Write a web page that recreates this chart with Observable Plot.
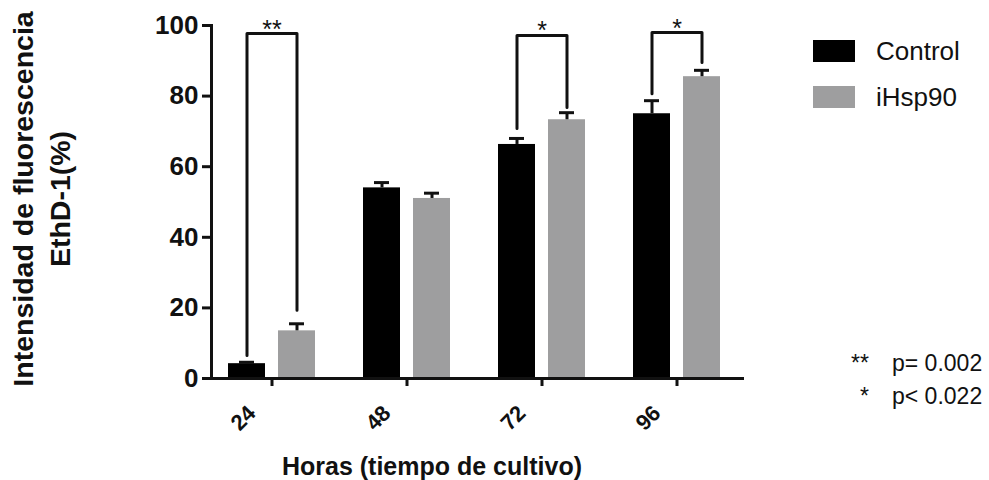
<!DOCTYPE html>
<html>
<head>
<meta charset="utf-8">
<script src="https://cdn.jsdelivr.net/npm/d3@7"></script>
<script src="https://cdn.jsdelivr.net/npm/@observablehq/plot@0.6"></script>
<style>
  html, body { margin: 0; padding: 0; background: #fff; }
  #wrap { position: relative; width: 989px; height: 480px; overflow: hidden; font-family: "Liberation Sans", Arial, sans-serif; color: #111; }
  #wrap > svg { position: absolute; left: 0; top: 0; }
  #ylab { position: absolute; left: -158px; top: 162px; width: 400px; height: 74px; transform: rotate(-90deg); transform-origin: 50% 50%;
          font-weight: bold; font-size: 28.5px; line-height: 37px; text-align: center; white-space: nowrap; }
  #xlab { position: absolute; left: 0; top: 452px; width: 864px; text-align: center; font-weight: bold; font-size: 25px; line-height: 28px; white-space: nowrap; }
  #legend { position: absolute; left: 813px; top: 36px; }
  .lg-swatch { padding-bottom: 16px !important; }
  .lg-swatch > svg { margin-right: 21px !important; }
  .lg-swatch-label { line-height: 30px; font-size: 26px; }
  #notes { position: absolute; left: 840px; top: 347px; font-size: 23px; line-height: 33px; }
  #notes table { border-collapse: collapse; }
  #notes td { padding: 0; white-space: nowrap; }
  #notes td.s { text-align: right; width: 29px; padding-right: 23px; }
</style>
</head>
<body>
<div id="wrap"></div>
<script>
// ---- data ----
const hours = ["24", "48", "72", "96"];
const groups = ["Control", "iHsp90"];
const controlMean = [4.2, 54, 66.3, 75];
const controlErr = [0.4, 1.5, 1.7, 3.7];
const ihspMean = [13.5, 51, 73.3, 85.5];
const ihspErr = [2.0, 1.5, 2.0, 1.8];
const yTicks = [0, 20, 40, 60, 80, 100];
const sigHours = ["24", "72", "96"];
const sigLabels = ["**", "*", "*"];
const bracketTop = [97.7, 97.2, 98];
const bracketLeftEnd = [6.5, 70.8, 80.7];
const bracketRightEnd = [19.3, 76.8, 89.5];
const noteStars = ["**", "*"];
const noteTexts = ["p= 0.002", "p< 0.022"];
const yTitle = ["Intensidad de fluorescencia", "EthD-1(%)"];
const xTitle = "Horas (tiempo de cultivo)";

// ---- tables built from the arrays ----
const rows = [];
hours.forEach((h, i) => {
  rows.push({hour: h, group: groups[0], mean: controlMean[i], err: controlErr[i]});
  rows.push({hour: h, group: groups[1], mean: ihspMean[i], err: ihspErr[i]});
});
const bracketPts = [];
const sig = [];
sigHours.forEach((h, i) => {
  bracketPts.push({hour: h, group: groups[0], y: bracketLeftEnd[i]});
  bracketPts.push({hour: h, group: groups[0], y: bracketTop[i]});
  bracketPts.push({hour: h, group: groups[1], y: bracketTop[i]});
  bracketPts.push({hour: h, group: groups[1], y: bracketRightEnd[i]});
  sig.push({hour: h, top: bracketTop[i], label: sigLabels[i]});
});

const ink = "#111";
const plot = Plot.plot({
  width: 989,
  height: 480,
  marginLeft: 203,
  marginRight: 245,
  marginTop: 25,
  marginBottom: 102,
  fx: {domain: hours, padding: 0, label: null},
  x: {domain: groups, paddingInner: 0.255, paddingOuter: 0.4535, axis: null},
  y: {domain: [0, 100]},
  color: {domain: groups, range: ["#000000", "#9e9e9f"]},
  style: {fontFamily: "'Liberation Sans', Arial, sans-serif", color: ink, background: "transparent", overflow: "visible"},
  marks: [
    Plot.barY(rows, {fx: "hour", x: "group", y: "mean", fill: "group"}),
    Plot.ruleX(rows, {fx: "hour", x: "group", y1: "mean", y2: d => d.mean + d.err, stroke: ink, strokeWidth: 3}),
    Plot.tickY(rows, {fx: "hour", x: "group", y: d => d.mean + d.err, stroke: ink, strokeWidth: 3, insetLeft: 11, insetRight: 11}),
    Plot.line(bracketPts, {fx: "hour", x: "group", y: "y", z: "hour", stroke: ink, strokeWidth: 3}),
    Plot.text(sig, {fx: "hour", y: "top", text: "label", lineAnchor: "bottom", dy: 4, fontSize: 25, fill: ink}),
    Plot.ruleY([0], {stroke: ink, strokeWidth: 3}),
    Plot.frame({anchor: "left", facetAnchor: "left", stroke: ink, strokeWidth: 3, dx: 7}),
    Plot.axisY({ticks: yTicks, tickSize: 9, tickPadding: 4, stroke: ink, strokeWidth: 3, fontSize: 26, fontWeight: "bold", dx: 7, label: null, facetAnchor: "left"}),
    // tick marks of the category axis
    Plot.axisFx({anchor: "bottom", tickSize: 8, tickFormat: () => "", stroke: ink, strokeWidth: 3, label: null}),
    // rotated category labels
    Plot.axisFx({anchor: "bottom", tickSize: 0, tickPadding: 12, tickRotate: -45, fontSize: 22, fontWeight: "bold", fill: ink, dx: -20, dy: 19, label: null})
  ]
});

const wrap = document.getElementById("wrap");
wrap.appendChild(plot);

// y title
const yl = document.createElement("div");
yl.id = "ylab";
yl.innerHTML = yTitle.join("<br>");
wrap.appendChild(yl);

// x title
const xl = document.createElement("div");
xl.id = "xlab";
xl.textContent = xTitle;
wrap.appendChild(xl);

// legend
const lg = plot.legend("color", {
  columns: 1, swatchWidth: 42, swatchHeight: 22, className: "lg",
  style: {fontFamily: "'Liberation Sans', Arial, sans-serif", fontSize: "26px", color: ink}
});
const lgBox = document.createElement("div");
lgBox.id = "legend";
lgBox.appendChild(lg);
wrap.appendChild(lgBox);

// p-value notes
const notes = document.createElement("div");
notes.id = "notes";
const tbl = document.createElement("table");
noteStars.forEach((s, i) => {
  const tr = document.createElement("tr");
  const a = document.createElement("td"); a.className = "s"; a.textContent = s;
  const b = document.createElement("td"); b.textContent = noteTexts[i];
  tr.appendChild(a); tr.appendChild(b); tbl.appendChild(tr);
});
notes.appendChild(tbl);
wrap.appendChild(notes);
</script>
</body>
</html>
